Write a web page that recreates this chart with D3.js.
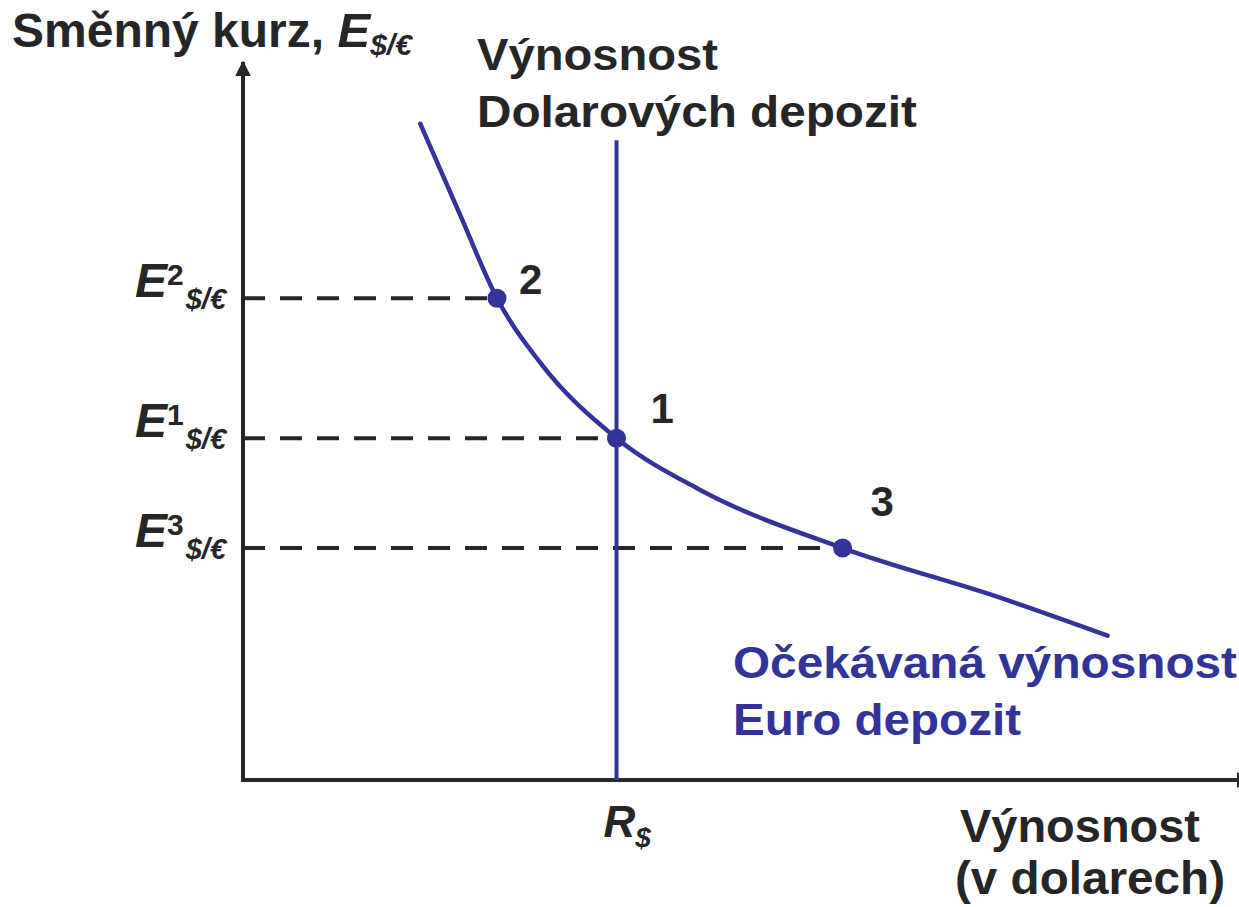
<!DOCTYPE html>
<html>
<head>
<meta charset="utf-8">
<script src="https://cdn.jsdelivr.net/npm/d3@7"></script>
<style>
  body { margin: 0; background: #fff; }
  svg { display: block; }
  text { font-family: "Liberation Sans", Arial, sans-serif; font-weight: bold; fill: #262626; }
</style>
</head>
<body>
<div id="drawing_region"></div>
<script>
// curve of expected return on euro deposits
const curveX = [1.78, 2.18, 2.55, 2.98, 3.75, 4.59, 6.02, 7.60, 8.68];
const curveY = [9.14, 7.87, 6.71, 5.82, 4.76, 4.04, 3.23, 2.54, 2.01];

// equilibrium points
const pointNames = ["2", "1", "3"];
const pointX = [2.55, 3.75, 6.02];
const pointY = [6.71, 4.76, 3.23];

const dollarReturn = 3.75;   // R$
const dollarLineTop = 8.91;

const width = 1239, height = 907;
const ink = "#262626", blue = "#333399";

const svg = d3.select("#drawing_region").append("svg")
    .attr("width", width)
    .attr("height", height);

const x = d3.scaleLinear().domain([0, 10]).range([243, 1239]);
const y = d3.scaleLinear().domain([0, 10]).range([780, 62]);

const defs = svg.append("defs");
defs.append("marker")
    .attr("id", "arrow")
    .attr("viewBox", "0 0 10 10")
    .attr("refX", 9).attr("refY", 5)
    .attr("markerWidth", 4).attr("markerHeight", 4.5)
    .attr("markerUnits", "strokeWidth")
    .attr("orient", "auto")
    .append("path")
    .attr("d", "M0,0 L10,5 L0,10 Z")
    .attr("fill", ink);

// dashed guide lines
svg.append("g").selectAll("line")
    .data(pointX.map((d, i) => ({ x: d, y: pointY[i] })))
    .join("line")
    .attr("x1", x(0)).attr("x2", d => x(d.x))
    .attr("y1", d => y(d.y)).attr("y2", d => y(d.y))
    .attr("stroke", ink)
    .attr("stroke-width", 4)
    .attr("stroke-dasharray", "22,15");

// axes
svg.append("line")
    .attr("x1", x(0)).attr("y1", y(0)).attr("x2", x(0)).attr("y2", y(10))
    .attr("stroke", ink).attr("stroke-width", 4)
    .attr("marker-end", "url(#arrow)");
svg.append("line")
    .attr("x1", x(0) - 2).attr("y1", y(0)).attr("x2", x(10) + 12).attr("y2", y(0))
    .attr("stroke", ink).attr("stroke-width", 4)
    .attr("marker-end", "url(#arrow)");

// dollar deposit return line
svg.append("line")
    .attr("x1", x(dollarReturn)).attr("x2", x(dollarReturn))
    .attr("y1", y(dollarLineTop)).attr("y2", y(0))
    .attr("stroke", blue).attr("stroke-width", 4);

// euro deposit curve
const line = d3.line()
    .x(d => x(d[0]))
    .y(d => y(d[1]))
    .curve(d3.curveMonotoneX);

svg.append("path")
    .datum(curveX.map((d, i) => [d, curveY[i]]))
    .attr("d", line)
    .attr("fill", "none")
    .attr("stroke", blue)
    .attr("stroke-width", 4.5)
    .attr("stroke-linecap", "round");

// points
svg.append("g").selectAll("circle")
    .data(pointX.map((d, i) => ({ x: d, y: pointY[i] })))
    .join("circle")
    .attr("cx", d => x(d.x)).attr("cy", d => y(d.y))
    .attr("r", 9.5)
    .attr("fill", blue);

const labelOffsets = [[22, -4], [34, -15], [28, -32]];
svg.append("g").selectAll("text")
    .data(pointNames)
    .join("text")
    .attr("x", (d, i) => x(pointX[i]) + labelOffsets[i][0])
    .attr("y", (d, i) => y(pointY[i]) + labelOffsets[i][1])
    .attr("font-size", 42)
    .text(d => d);

// y tick labels E^n $/€
const yTicks = svg.append("g").selectAll("text")
    .data(pointNames)
    .join("text")
    .attr("x", 135)
    .attr("y", (d, i) => y(pointY[i]) - 1);
yTicks.append("tspan").attr("font-size", 48).attr("font-style", "italic").text("E");
yTicks.append("tspan").attr("font-size", 30).attr("dy", -12).text(d => d);
yTicks.append("tspan").attr("font-size", 29).attr("font-style", "italic")
    .attr("dx", 2).attr("dy", 24).text("$/€");

// y axis title
const yTitle = svg.append("text").attr("x", 12).attr("y", 47).attr("font-size", 48);
yTitle.append("tspan").text("Směnný kurz, ");
yTitle.append("tspan").attr("font-style", "italic").attr("font-size", 49).text("E");
yTitle.append("tspan").attr("font-style", "italic").attr("font-size", 30).attr("dy", 8).text("$/€");

// dollar line label
svg.append("text").attr("x", 477).attr("y", 70).attr("font-size", 44)
    .attr("textLength", 241).attr("lengthAdjust", "spacingAndGlyphs").text("Výnosnost");
svg.append("text").attr("x", 477).attr("y", 127).attr("font-size", 44)
    .attr("textLength", 440).attr("lengthAdjust", "spacingAndGlyphs").text("Dolarových depozit");

// euro curve label
svg.append("text").attr("x", 733).attr("y", 678).attr("font-size", 44).style("fill", blue)
    .attr("textLength", 504).attr("lengthAdjust", "spacingAndGlyphs").text("Očekávaná výnosnost");
svg.append("text").attr("x", 733).attr("y", 735).attr("font-size", 44).style("fill", blue)
    .attr("textLength", 288).attr("lengthAdjust", "spacingAndGlyphs").text("Euro depozit");

// x tick label R$
const rLabel = svg.append("text").attr("x", x(dollarReturn) - 13).attr("y", 837).attr("font-size", 44).attr("font-style", "italic");
rLabel.append("tspan").text("R");
rLabel.append("tspan").attr("font-size", 28).attr("dy", 10).text("$");

// x axis title
svg.append("text").attr("x", 960).attr("y", 842).attr("font-size", 46)
    .attr("textLength", 240).attr("lengthAdjust", "spacingAndGlyphs").text("Výnosnost");
svg.append("text").attr("x", 955).attr("y", 894).attr("font-size", 46)
    .attr("textLength", 270).attr("lengthAdjust", "spacingAndGlyphs").text("(v dolarech)");
</script>
</body>
</html>
